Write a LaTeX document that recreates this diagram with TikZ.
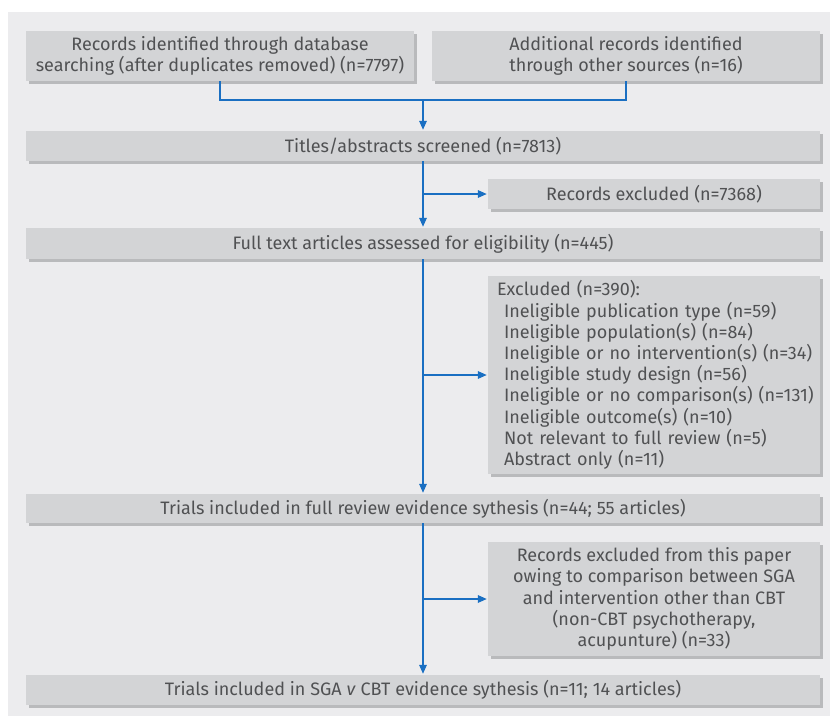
\documentclass[tikz,border=0pt]{standalone}
\usepackage{fontspec}
\setmainfont{Fira Sans}
\usetikzlibrary{arrows.meta,shadows}
\definecolor{panel}{HTML}{ECECEE}
\definecolor{boxfill}{HTML}{D3D4D6}
\definecolor{shadowc}{HTML}{B9BABC}
\definecolor{txt}{HTML}{505153}
\definecolor{flow}{HTML}{1A6FC2}
\tikzset{
  box/.style={fill=boxfill, inner sep=0pt, align=center, text=txt,
    font=\fontsize{18}{21.2}\selectfont,
    general shadow={fill=shadowc, shadow xshift=3pt, shadow yshift=-3pt}},
  flowline/.style={draw=flow, line width=1.6pt},
  arr/.style={flowline, -{Triangle[length=9pt,width=7.5pt]}, shorten >=1pt}
}
\begin{document}
\begin{tikzpicture}[x=1pt,y=-1pt]
\useasboundingbox (0,0) rectangle (830,716);
\fill[white] (0,0) rectangle (830,716);
\fill[panel] (8,12) rectangle (830,716);

\node[box, minimum width=388pt, minimum height=50pt] (b1) at (220,56)
  {Records identified through database\\searching (after duplicates removed) (n=7797)};
\node[box, minimum width=388pt, minimum height=50pt] (b2) at (626,56)
  {Additional records identified\\through other sources (n=16)};
\node[box, minimum width=794pt, minimum height=30pt] (t) at (423,146)
  {Titles/abstracts screened (n=7813)};
\node[box, minimum width=332pt, minimum height=30pt] (r) at (654,194)
  {Records excluded (n=7368)};
\node[box, minimum width=794pt, minimum height=31pt] (f) at (423,243.5)
  {Full text articles assessed for eligibility (n=445)};
\node[box, minimum width=332pt, minimum height=198pt, text width=330pt, align=left] (ex) at (654,375)
  {\hspace*{8pt}Excluded (n=390):\\
   \hspace*{15pt}Ineligible publication type (n=59)\\
   \hspace*{15pt}Ineligible population(s) (n=84)\\
   \hspace*{15pt}Ineligible or no intervention(s) (n=34)\\
   \hspace*{15pt}Ineligible study design (n=56)\\
   \hspace*{15pt}Ineligible or no comparison(s) (n=131)\\
   \hspace*{15pt}Ineligible outcome(s) (n=10)\\
   \hspace*{15pt}Not relevant to full review (n=5)\\
   \hspace*{15pt}Abstract only (n=11)};
\node[box, minimum width=794pt, minimum height=29pt] (tr) at (423,508.5)
  {Trials included in full review evidence sythesis (n=44; 55 articles)};
\node[box, minimum width=332pt, minimum height=114pt] (rp) at (654,599)
  {Records excluded from this paper\\owing to comparison between SGA\\and intervention other than CBT\\(non-CBT psychotherapy,\\acupunture) (n=33)};
\node[box, minimum width=794pt, minimum height=30pt] (fin) at (423,690)
  {Trials included in SGA \textit{v} CBT evidence sythesis (n=11; 14 articles)};

\coordinate (j1) at (423,100);
\draw[flowline] (b1.south) |- (j1) -| (b2.south);
\draw[arr] (j1) -- (t.north);
\draw[arr] (t.south) -- (f.north);
\draw[arr] (t.south |- r.west) -- (r.west);
\draw[arr] (f.south) -- (tr.north);
\draw[arr] (f.south |- ex.west) -- (ex.west);
\draw[arr] (tr.south) -- (fin.north);
\draw[arr] (tr.south |- rp.west) -- (rp.west);
\end{tikzpicture}
\end{document}
